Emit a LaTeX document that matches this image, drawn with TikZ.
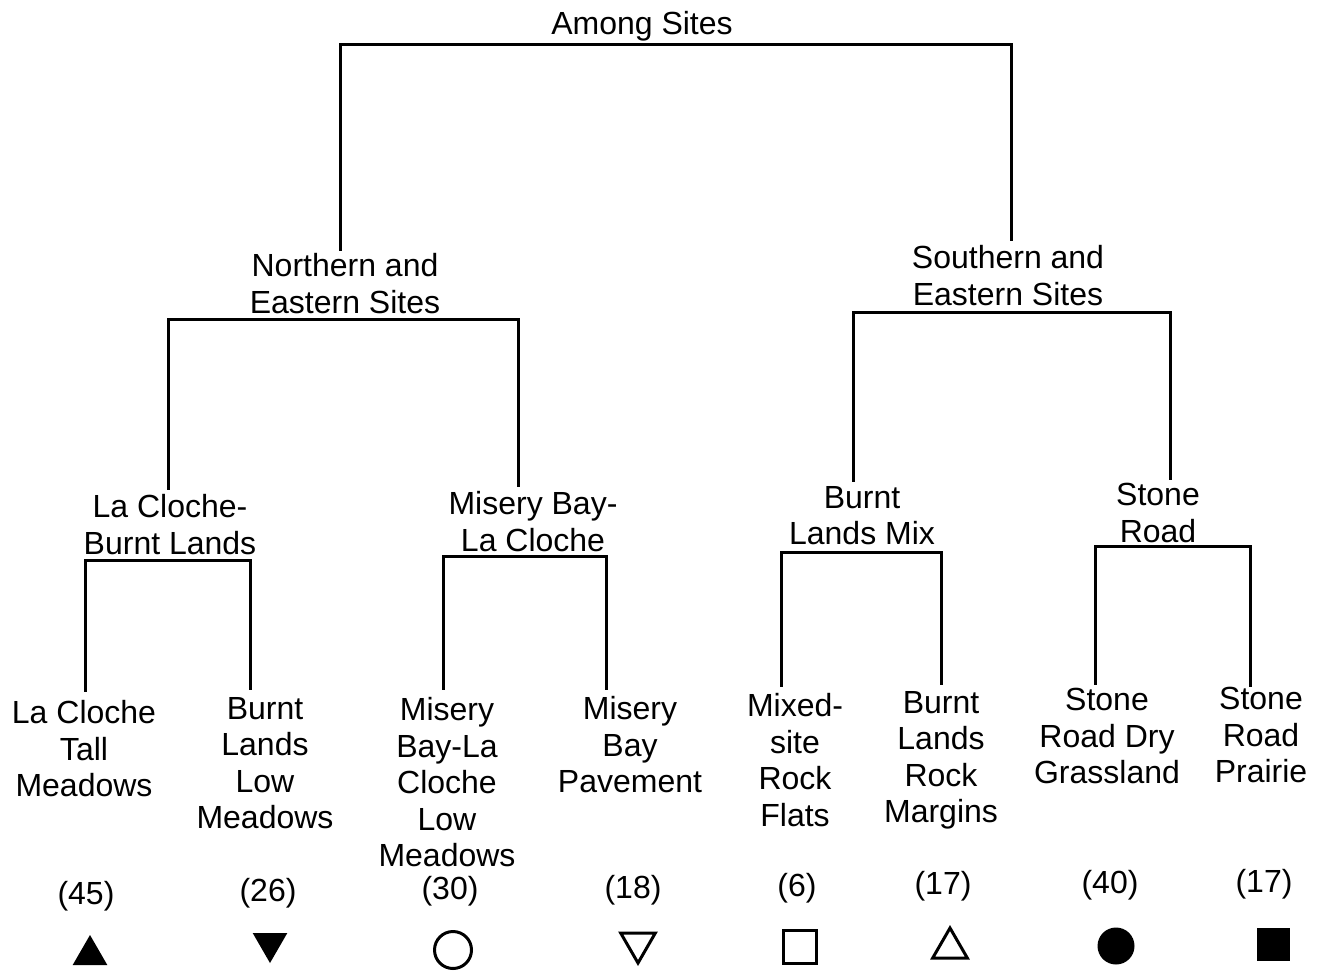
\documentclass[tikz,border=0pt]{standalone}
\usepackage{fontspec}
\setmainfont{Liberation Sans}
\usetikzlibrary{shapes.geometric}
\begin{document}
\begin{tikzpicture}[x=0.5pt,y=-0.5pt,
  lab/.style={font=\fontsize{16}{18.25}\selectfont, align=center, anchor=north, inner sep=0pt},
  cnt/.style={font=\fontsize{16}{18.25}\selectfont, inner sep=0pt},
  tree/.style={line width=1.5pt, line cap=rect},
  tri/.style={regular polygon, regular polygon sides=3, minimum size=20pt, inner sep=0pt, line width=1.5pt},
  dtri/.style={tri, shape border rotate=180},
  circ/.style={circle, minimum size=18.5pt, inner sep=0pt, line width=1.5pt},
  sq/.style={rectangle, minimum size=16.5pt, inner sep=0pt, line width=1.5pt}]
\useasboundingbox (0,0) rectangle (1325,972);

% internal labels
\node[lab] (top) at (642,11) {Among Sites};
\node[lab] (nes) at (345,253) {Northern and\\Eastern Sites};
\node[lab] (ses) at (1008,245) {Southern and\\Eastern Sites};
\node[lab] (lcb) at (170,494) {La Cloche-\\Burnt Lands};
\node[lab] (mbl) at (533,491) {Misery Bay-\\La Cloche};
\node[lab] (blm) at (862,486) {Burnt\\Lands Mix};
\node[lab] (sr) at (1158,483) {Stone\\Road};

% leaves
\node[lab] (l1) at (84,700) {La Cloche\\Tall\\Meadows};
\node[lab] (l2) at (265,697) {Burnt\\Lands\\Low\\Meadows};
\node[lab] (l3) at (447,697) {Misery\\Bay-La\\Cloche\\Low\\Meadows};
\node[lab] (l4) at (630,696) {Misery\\Bay\\Pavement};
\node[lab] (l5) at (795,693) {Mixed-\\site\\Rock\\Flats};
\node[lab] (l6) at (941,691) {Burnt\\Lands\\Rock\\Margins};
\node[lab] (l7) at (1107,688) {Stone\\Road Dry\\Grassland};
\node[lab] (l8) at (1261,687) {Stone\\Road\\Prairie};

% counts
\node[cnt] (c1) at (86,896) {(45)};
\node[cnt] (c2) at (268,893) {(26)};
\node[cnt] (c3) at (450,891) {(30)};
\node[cnt] (c4) at (633,890) {(18)};
\node[cnt] (c5) at (797,888) {(6)};
\node[cnt] (c6) at (943,886) {(17)};
\node[cnt] (c7) at (1110,885) {(40)};
\node[cnt] (c8) at (1264,884) {(17)};

% symbols
\node[tri, fill=black] (s1) at (90,955) {};
\node[dtri, fill=black] (s2) at (270,943) {};
\node[circ, draw] (s3) at (453,950) {};
\node[dtri, draw] (s4) at (638,943) {};
\node[sq, draw] (s5) at (800,947) {};
\node[tri, draw] (s6) at (950,948) {};
\node[circ, fill=black] (s7) at (1116,946) {};
\node[sq, fill=black] (s8) at (1273,944) {};

% bar coordinates
\coordinate (topbar) at (676,45);
\coordinate (nesbar) at (343,320);
\coordinate (sesbar) at (1011,313);
\coordinate (lcbbar) at (167,560);
\coordinate (mblbar) at (525,556);
\coordinate (blmbar) at (861,552);
\coordinate (srbar) at (1172,546);

% child tops
\coordinate (nesT) at (340,250);
\coordinate (sesT) at (1011,240);
\coordinate (lcbT) at (168,488);
\coordinate (mblT) at (518,485);
\coordinate (blmT) at (853,480);
\coordinate (srT) at (1170,478);
\coordinate (l1T) at (85,690);
\coordinate (l2T) at (250,688);
\coordinate (l3T) at (443,688);
\coordinate (l4T) at (606,688);
\coordinate (l5T) at (781,685);
\coordinate (l6T) at (941,683);
\coordinate (l7T) at (1095,683);
\coordinate (l8T) at (1250,685);

\draw[tree] (nesT) |- (topbar) -| (sesT);
\draw[tree] (lcbT) |- (nesbar) -| (mblT);
\draw[tree] (blmT) |- (sesbar) -| (srT);
\draw[tree] (l1T) |- (lcbbar) -| (l2T);
\draw[tree] (l3T) |- (mblbar) -| (l4T);
\draw[tree] (l5T) |- (blmbar) -| (l6T);
\draw[tree] (l7T) |- (srbar) -| (l8T);
\end{tikzpicture}
\end{document}
